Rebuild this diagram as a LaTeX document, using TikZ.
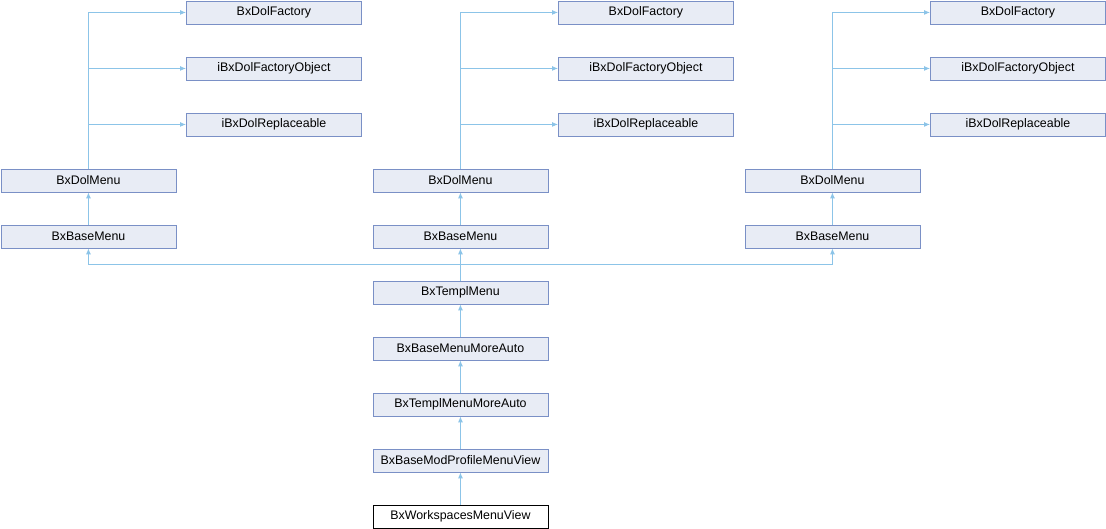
\documentclass[tikz,border=0pt]{standalone}
\usepackage{fontspec}
\setmainfont{Liberation Sans}
\usetikzlibrary{arrows.meta}
\definecolor{boxfill}{HTML}{E8ECF5}
\definecolor{boxline}{HTML}{7A90C6}
\definecolor{edgecol}{HTML}{8CC4E8}
\begin{document}
\begin{tikzpicture}[x=1pt,y=-1pt,
  cls/.style={draw=boxline,fill=boxfill,line width=0.9pt,minimum width=175pt,minimum height=23pt,inner sep=0pt,font=\fontsize{12.4}{14}\selectfont,anchor=north west},
  leaf/.style={cls,draw=black,fill=white},
  inh/.style={draw=edgecol,line width=0.9pt,-{Latex[length=6pt,width=5pt]}}]
\useasboundingbox (0,0) rectangle (1106,528);
% columns
\foreach \i/\xa/\xb in {1/0/186,2/372/558,3/744/930}{
  \node[cls] (fac\i) at (\xb,0.5) {BxDolFactory};
  \node[cls] (fo\i) at (\xb,56.5) {iBxDolFactoryObject};
  \node[cls] (rep\i) at (\xb,112.5) {iBxDolReplaceable};
  \node[cls] (dm\i) at (\xa+0.5,168.5) {BxDolMenu};
  \node[cls] (bm\i) at (\xa+0.5,224.5) {BxBaseMenu};
  \draw[inh] (dm\i.north) |- (fac\i.west);
  \draw[inh] (dm\i.north) |- (fo\i.west);
  \draw[inh] (dm\i.north) |- (rep\i.west);
  \draw[inh] (bm\i.north) -- (dm\i.south);
}
\node[cls] (tm) at (372.5,280.5) {BxTemplMenu};
\node[cls] (bmma) at (372.5,336.5) {BxBaseMenuMoreAuto};
\node[cls] (tmma) at (372.5,392.5) {BxTemplMenuMoreAuto};
\node[cls] (bmp) at (372.5,448.5) {BxBaseModProfileMenuView};
\node[leaf] (wmv) at (372.5,504.5) {BxWorkspacesMenuView};
\draw[inh] (tm.north) -- ++(0,-16) -| (bm1.south);
\draw[inh] (tm.north) -- (bm2.south);
\draw[inh] (tm.north) -- ++(0,-16) -| (bm3.south);
\draw[inh] (bmma.north) -- (tm.south);
\draw[inh] (tmma.north) -- (bmma.south);
\draw[inh] (bmp.north) -- (tmma.south);
\draw[inh] (wmv.north) -- (bmp.south);
\end{tikzpicture}
\end{document}
